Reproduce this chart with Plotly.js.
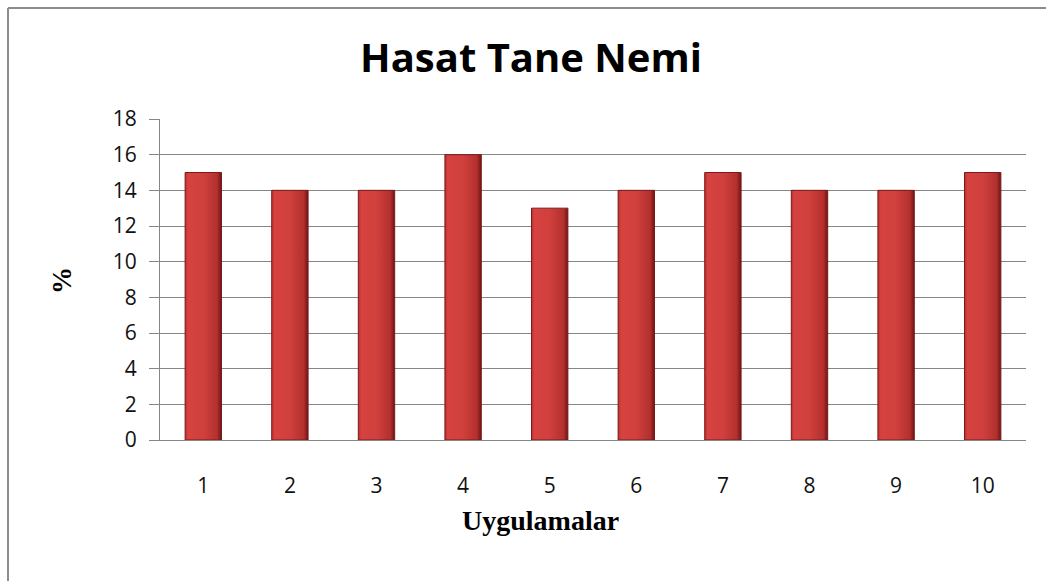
<!DOCTYPE html>
<html>
<head>
<meta charset="utf-8">
<script src="https://cdn.plot.ly/plotly-3.0.1.min.js"></script>
<style>
html,body{margin:0;padding:0;background:#fff;}
#chart{width:1046px;height:581px;}
</style>
</head>
<body>
<div id="chart"></div>
<script>
const categories = ["1","2","3","4","5","6","7","8","9","10"];
const values = [15, 14, 14, 16, 13, 14, 15, 14, 14, 15];
const yTicks = [0, 2, 4, 6, 8, 10, 12, 14, 16, 18];
const chartTitle = "Hasat Tane Nemi";
const xTitle = "Uygulamalar";
const yTitle = "%";

const W = 1046, H = 581;
const L = 160, R = 20, T = 119, B = 141;
const pw = W - L - R, ph = H - T - B;
const px = x => (x - L) / pw;
const py = y => (H - B - y) / ph;

const trace = {
  type: "bar",
  x: categories,
  y: values,
  width: 0.42,
  marker: {color: "#c93a38", line: {color: "#7a1a1a", width: 1}},
  hoverinfo: "x+y"
};

const layout = {
  width: W, height: H,
  margin: {l: L, r: R, t: T, b: B, pad: 0},
  paper_bgcolor: "#ffffff",
  plot_bgcolor: "#ffffff",
  showlegend: false,
  title: {
    text: chartTitle,
    font: {family: "Open Sans, Noto Sans, sans-serif", size: 40, color: "#000", weight: 700},
    x: px(531), xref: "paper", xanchor: "center",
    y: 1 - 58 / H, yref: "container", yanchor: "middle"
  },
  xaxis: {
    type: "category",
    tickvals: categories,
    ticktext: categories,
    showline: true, linecolor: "#868686", linewidth: 1,
    showgrid: false, ticks: "", zeroline: false,
    ticklabelstandoff: 27,
    tickfont: {family: "Open Sans, sans-serif", size: 21, color: "#111"}
  },
  yaxis: {
    range: [0, 18],
    tickvals: yTicks,
    showline: true, linecolor: "#868686", linewidth: 1,
    showgrid: true, gridcolor: "#868686", gridwidth: 1,
    zeroline: false,
    ticks: "outside", ticklen: 10, tickcolor: "#868686", tickwidth: 1,
    ticklabelstandoff: 8,
    tickfont: {family: "Open Sans, sans-serif", size: 21, color: "#111"}
  },
  annotations: [
    {
      text: xTitle, xref: "paper", yref: "paper",
      x: px(540), y: py(520), xanchor: "center", yanchor: "middle",
      showarrow: false,
      font: {family: "Liberation Serif, serif", size: 28, color: "#000", weight: 700}
    },
    {
      text: yTitle, xref: "paper", yref: "paper",
      x: px(62), y: py(281), xanchor: "center", yanchor: "middle",
      textangle: -90, showarrow: false,
      font: {family: "Liberation Serif, serif", size: 27, color: "#000", weight: 700}
    }
  ],
  shapes: [
    {type: "line", xref: "paper", yref: "paper", x0: px(8), x1: px(1060), y0: py(8), y1: py(8),
     line: {color: "#8c8c8c", width: 2}},
    {type: "line", xref: "paper", yref: "paper", x0: px(8), x1: px(8), y0: py(8), y1: py(600),
     line: {color: "#8c8c8c", width: 2}}
  ]
};

Plotly.newPlot("chart", [trace], layout, {displayModeBar: false, staticPlot: true}).then(gd => {
  const svg = gd.querySelector("svg.main-svg");
  const ns = "http://www.w3.org/2000/svg";
  let defs = svg.querySelector("defs");
  if (!defs) { defs = document.createElementNS(ns, "defs"); svg.insertBefore(defs, svg.firstChild); }
  const g = document.createElementNS(ns, "linearGradient");
  g.setAttribute("id", "barGrad");
  g.setAttribute("x1", "0"); g.setAttribute("x2", "1"); g.setAttribute("y1", "0"); g.setAttribute("y2", "0");
  [["0", "#b8302e"], ["0.08", "#d6423f"], ["0.5", "#d0403d"], ["0.88", "#b3302e"], ["1", "#6e1414"]].forEach(([o, c]) => {
    const s = document.createElementNS(ns, "stop");
    s.setAttribute("offset", o); s.setAttribute("stop-color", c);
    g.appendChild(s);
  });
  defs.appendChild(g);
  gd.querySelectorAll(".bars .point path").forEach(p => {
    p.style.fill = "url(#barGrad)";
  });
});
</script>
</body>
</html>
